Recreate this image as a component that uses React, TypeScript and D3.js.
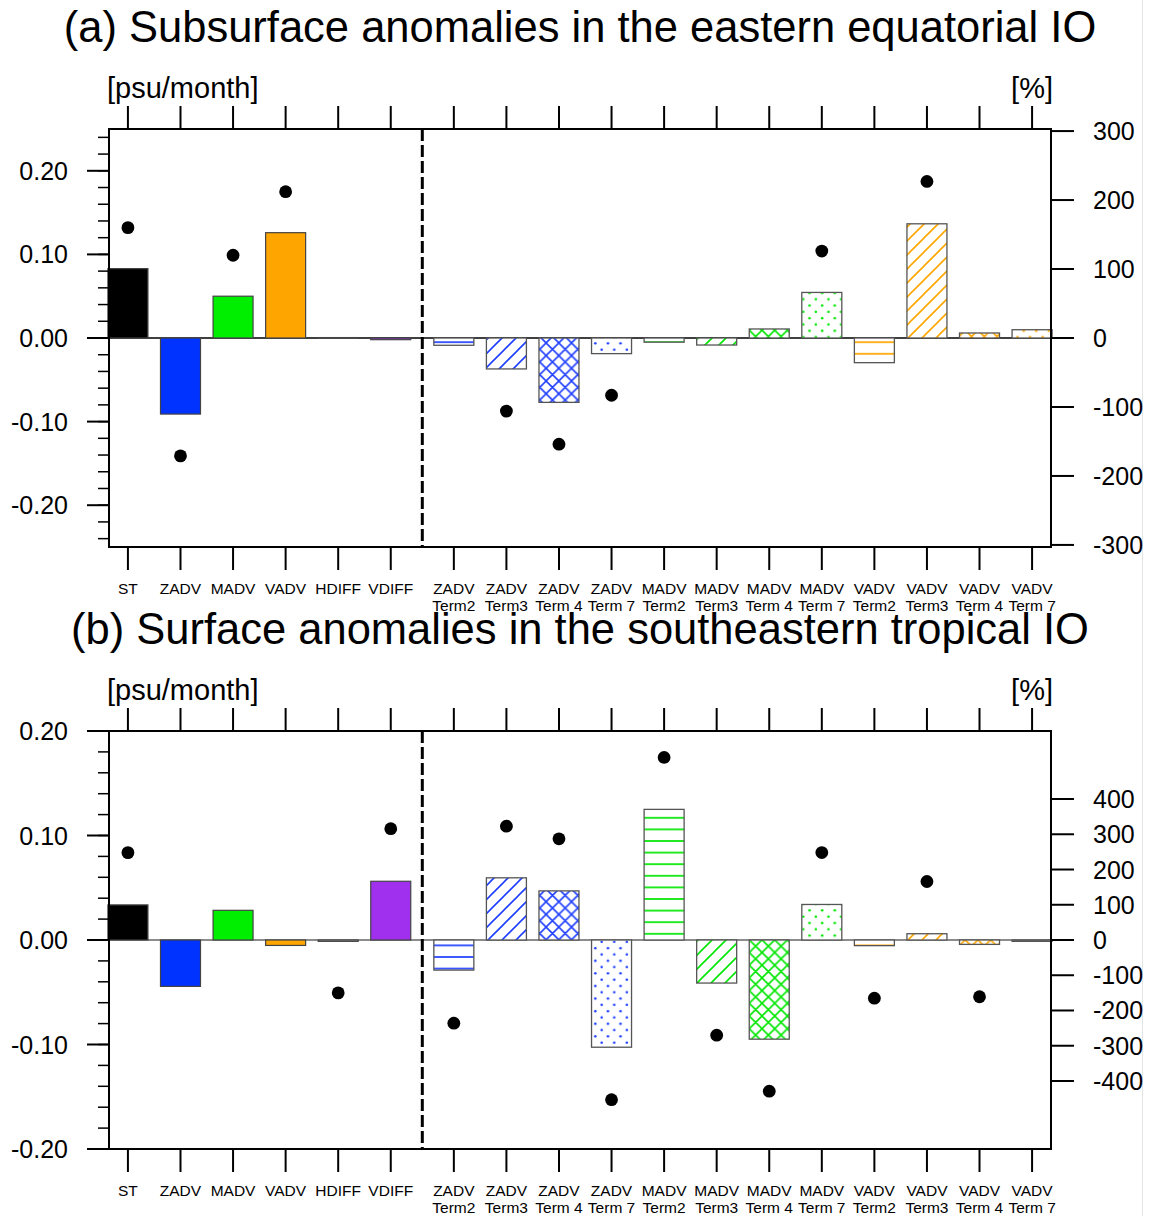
import * as d3 from 'd3';

// categories
const budgetLabels = ['ST', 'ZADV', 'MADV', 'VADV', 'HDIFF', 'VDIFF'];
const budgetColors = ['#000000', '#0033ff', '#00ee00', '#ffa500', '#ffffff', '#a030ee'];
const termGroups = ['ZADV', 'MADV', 'VADV'];
const termNames = ['Term2', 'Term3', 'Term 4', 'Term 7'];
const groupColors = ['#1f3fff', '#00e600', '#ffa500'];
const termHatch = ['horiz', 'diag', 'cross', 'dots'];

// (a) subsurface, eastern equatorial IO
const budgetA = [0.083, -0.091, 0.05, 0.126, 0.0005, -0.002]; // psu/month
const budgetDotsA = [0.132, -0.141, 0.099, 0.175, null, null]; // psu/month
const termsA = [-0.0087, -0.037, -0.077, -0.0187, -0.005, -0.0084, 0.0108, 0.0545, -0.0295, 0.1366, 0.006, 0.0099];
const termDotsA = [null, -106, -154, -83, null, null, null, 126, null, 227, null, null]; // %
const pctTicksA = [-300, -200, -100, 0, 100, 200, 300];

// (b) surface, southeastern tropical IO
const budgetB = [0.0336, -0.0444, 0.0284, -0.0052, -0.0013, 0.0562];
const budgetDotsB = [0.0836, null, null, null, -0.0506, 0.1065];
const termsB = [-0.0288, 0.0595, 0.047, -0.1026, 0.125, -0.0412, -0.0949, 0.034, -0.0054, 0.006, -0.0042, -0.0013];
const termDotsB = [-236, 323, 287, -453, 518, -270, -429, 248, -165, 166, -161, null];
const pctTicksB = [-400, -300, -200, -100, 0, 100, 200, 300, 400];

const psuTicks = [-0.2, -0.1, 0, 0.1, 0.2];

const FONT = '"Liberation Sans", Arial, Helvetica, sans-serif';
const W = 1149;
const H = 1216;
const LEFT = 109;
const RIGHT = 1051;
const PH = 418;
const BAR_W = 40;

// slot positions: 6 budget terms, a gap, then 12 decomposed terms
const slots = [
  ...budgetLabels.map((_, i) => i),
  ...d3.range(12).map(j => 6.2 + j),
];
const x = d3.scaleLinear().domain([-0.36, 17.56]).range([LEFT, RIGHT]);

function Patterns() {
  const items = [];
  groupColors.forEach((c, gi) => {
    // horizontal lines
    items.push(
      <pattern key={`h${gi}`} id={`p-${gi}-horiz`} patternUnits="userSpaceOnUse" width={10} height={11.6}>
        <line x1={0} x2={10} y1={5.8} y2={5.8} stroke={c} strokeWidth={1.7} />
      </pattern>
    );
    const s = 14;
    items.push(
      <pattern key={`d${gi}`} id={`p-${gi}-diag`} patternUnits="userSpaceOnUse" width={s} height={s}>
        <path d={`M0,${s} L${s},0 M${-s / 4},${s / 4} L${s / 4},${-s / 4} M${(3 * s) / 4},${(5 * s) / 4} L${(5 * s) / 4},${(3 * s) / 4}`}
          stroke={c} strokeWidth={1.6} />
      </pattern>
    );
    const k = 12.7;
    items.push(
      <pattern key={`c${gi}`} id={`p-${gi}-cross`} patternUnits="userSpaceOnUse" width={k} height={k}>
        <path d={`M0,${k} L${k},0 M0,0 L${k},${k} M${-k / 4},${k / 4} L${k / 4},${-k / 4} M${(3 * k) / 4},${(5 * k) / 4} L${(5 * k) / 4},${(3 * k) / 4} M${-k / 4},${(3 * k) / 4} L${k / 4},${(5 * k) / 4} M${(3 * k) / 4},${-k / 4} L${(5 * k) / 4},${k / 4}`}
          stroke={c} strokeWidth={1.6} />
      </pattern>
    );
    const t = 12.6;
    items.push(
      <pattern key={`s${gi}`} id={`p-${gi}-dots`} patternUnits="userSpaceOnUse" width={t} height={t}>
        <circle cx={t / 4} cy={t / 4} r={1.3} fill={c} />
        <circle cx={(3 * t) / 4} cy={(3 * t) / 4} r={1.3} fill={c} />
      </pattern>
    );
  });
  return <defs>{items}</defs>;
}

function Panel({ top, title, budget, budgetDots, terms, termDots, psuDomain, pctDomain, pctTicks, zeroColor }) {
  const bottom = top + PH;
  const y = d3.scaleLinear().domain(psuDomain).range([bottom, top]);
  const yp = d3.scaleLinear().domain(pctDomain).range([bottom, top]);

  const minor = d3.range(-12, 13).map(k => k * 0.02).filter(v => v >= psuDomain[0] - 1e-9 && v <= psuDomain[1] + 1e-9);

  const termLabels = termGroups.flatMap(g => termNames.map(t => [g, t]));

  const barRect = (v, cx) => {
    const y0 = y(0);
    const y1 = y(v);
    return { x: cx - BAR_W / 2, y: Math.min(y0, y1), width: BAR_W, height: Math.max(Math.abs(y1 - y0), 0.6) };
  };

  return (
    <g>
      <text x={580} y={top - 87} textAnchor="middle" fontSize={43.5} fontFamily={FONT} fill="#000">{title}</text>
      <text x={107} y={top - 31} fontSize={29} fontFamily={FONT} fill="#000">[psu/month]</text>
      <text x={1053} y={top - 31} textAnchor="end" fontSize={29} fontFamily={FONT} fill="#000">[%]</text>

      {/* zero line */}
      <line x1={LEFT} x2={RIGHT} y1={y(0)} y2={y(0)} stroke={zeroColor} strokeWidth={1.5} />

      {/* budget bars */}
      {budget.map((v, i) => {
        const r = barRect(v, x(slots[i]));
        return <rect key={`b${i}`} {...r} fill={budgetColors[i]} stroke="#444" strokeWidth={1.2} />;
      })}

      {/* decomposed term bars */}
      {terms.map((v, j) => {
        const gi = Math.floor(j / 4);
        const r = barRect(v, x(slots[6 + j]));
        return (
          <g key={`t${j}`}>
            <rect {...r} fill="#fff" />
            <rect {...r} fill={`url(#p-${gi}-${termHatch[j % 4]})`} stroke="#555" strokeWidth={1.3} />
          </g>
        );
      })}

      {/* dots */}
      {budgetDots.map((v, i) => v == null ? null : (
        <circle key={`bd${i}`} cx={x(slots[i])} cy={y(v)} r={6.4} fill="#000" />
      ))}
      {termDots.map((v, j) => v == null ? null : (
        <circle key={`td${j}`} cx={x(slots[6 + j])} cy={yp(v)} r={6.4} fill="#000" />
      ))}

      {/* separator */}
      <line x1={x(5.6)} x2={x(5.6)} y1={top} y2={bottom} stroke="#000" strokeWidth={3} strokeDasharray="12 4" />

      {/* frame */}
      <rect x={LEFT} y={top} width={RIGHT - LEFT} height={PH} fill="none" stroke="#000" strokeWidth={2} />

      {/* left axis */}
      {minor.map((v, i) => (
        <line key={`mn${i}`} x1={LEFT - 11} x2={LEFT} y1={y(v)} y2={y(v)} stroke="#000" strokeWidth={1.5} />
      ))}
      {psuTicks.map(v => (
        <g key={`l${v}`}>
          <line x1={LEFT - 22} x2={LEFT} y1={y(v)} y2={y(v)} stroke="#000" strokeWidth={2} />
          <text x={68} y={y(v)} dy="0.36em" textAnchor="end" fontSize={25} fontFamily={FONT} fill="#000">{v.toFixed(2)}</text>
        </g>
      ))}

      {/* right axis */}
      {pctTicks.map(v => (
        <g key={`r${v}`}>
          <line x1={RIGHT} x2={RIGHT + 23} y1={yp(v)} y2={yp(v)} stroke="#000" strokeWidth={2} />
          <text x={1093} y={yp(v)} dy="0.36em" fontSize={25} fontFamily={FONT} fill="#000">{String(v)}</text>
        </g>
      ))}

      {/* top and bottom category ticks */}
      {slots.map((s, i) => (
        <g key={`x${i}`}>
          <line x1={x(s)} x2={x(s)} y1={top - 23} y2={top} stroke="#000" strokeWidth={2} />
          <line x1={x(s)} x2={x(s)} y1={bottom} y2={bottom + 23} stroke="#000" strokeWidth={2} />
        </g>
      ))}

      {budgetLabels.map((l, i) => (
        <text key={`bl${i}`} x={x(slots[i])} y={bottom + 47} textAnchor="middle" fontSize={15.5} fontFamily={FONT} fill="#000">{l}</text>
      ))}
      {termLabels.map(([g, t], j) => (
        <text key={`tl${j}`} x={x(slots[6 + j])} textAnchor="middle" fontSize={15.5} fontFamily={FONT} fill="#000">
          <tspan x={x(slots[6 + j])} y={bottom + 47}>{g}</tspan>
          <tspan x={x(slots[6 + j])} y={bottom + 64}>{t}</tspan>
        </text>
      ))}
    </g>
  );
}

export default function App() {
  return (
    <svg width={W} height={H} viewBox={`0 0 ${W} ${H}`}
      style={{ position: 'absolute', left: 0, top: 0, display: 'block', background: '#fff' }}>
      <Patterns />
      <rect x={0} y={0} width={W} height={H} fill="#fff" />
      <line x1={1142.5} x2={1142.5} y1={0} y2={H} stroke="#e4e4e4" strokeWidth={1} />
      <Panel top={129} title="(a) Subsurface anomalies in the eastern equatorial IO"
        budget={budgetA} budgetDots={budgetDotsA} terms={termsA} termDots={termDotsA}
        psuDomain={[-0.25, 0.25]} pctDomain={[-303, 303]} pctTicks={pctTicksA} zeroColor="#000" />
      <Panel top={731} title="(b) Surface anomalies in the southeastern tropical IO"
        budget={budgetB} budgetDots={budgetDotsB} terms={termsB} termDots={termDotsB}
        psuDomain={[-0.2, 0.2]} pctDomain={[-593, 593]} pctTicks={pctTicksB} zeroColor="#666" />
    </svg>
  );
}
